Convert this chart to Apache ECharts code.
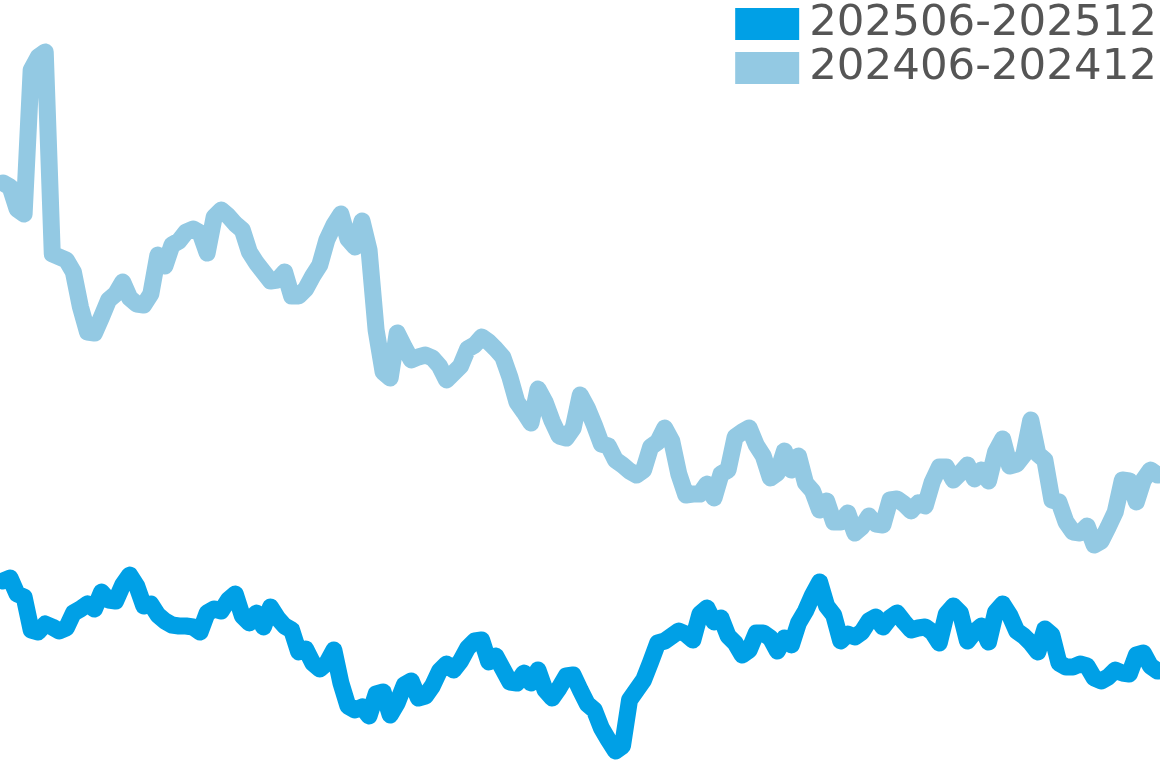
<!DOCTYPE html>
<html>
<head>
<meta charset="utf-8">
<script src="https://cdn.jsdelivr.net/npm/echarts@6/dist/echarts.min.js"></script>
<style>
html,body{margin:0;padding:0;background:#fff;}
#main{width:1160px;height:768px;}
</style>
</head>
<body>
<div id="main"></div>
<script>
const seriesNames = ['202506-202512', '202406-202412'];

const values2025 = [
18.7,19.0,17.4,17.1,13.8,13.6,14.4,14.1,13.7,14.0,
15.5,15.9,16.4,15.9,17.6,16.8,16.7,18.3,19.3,18.2,
16.2,16.4,15.3,14.7,14.3,14.2,14.2,14.1,13.6,15.5,
15.9,15.7,16.8,17.4,15.2,14.5,15.5,14.1,16.1,15.0,
14.2,13.8,11.6,11.9,10.5,9.9,10.5,11.8,8.5,6.2,
5.8,6.1,5.2,7.4,7.6,5.3,6.5,8.3,8.7,7.0,
7.2,8.2,9.7,10.4,9.8,10.7,12.0,12.7,12.8,10.6,
11.2,9.9,8.6,8.5,9.5,8.5,9.8,7.8,7.0,8.0,
9.2,9.3,7.8,6.4,5.8,4.0,2.8,1.7,2.2,6.8,
7.8,8.8,10.6,12.5,12.7,13.2,13.7,13.4,12.8,15.4,
16.0,14.6,15.0,13.2,12.5,11.3,11.8,13.5,13.5,13.0,
11.7,13.0,12.3,14.5,15.7,17.3,18.6,16.2,15.3,12.7,
13.4,13.1,13.6,14.7,15.1,14.1,15.0,15.5,14.6,13.8,
14.0,14.1,13.6,12.5,15.4,16.2,15.5,12.7,13.6,14.2,
12.6,15.6,16.4,15.3,13.7,13.2,12.5,11.6,13.9,13.3,
10.5,10.1,10.1,10.4,10.2,9.0,8.7,9.1,9.8,9.5,
9.4,11.3,11.5,10.2,9.7
];

const values2024 = [
58.5,58.1,55.9,55.4,69.8,71.1,71.6,51.4,51.1,50.8,
49.6,46.1,43.6,43.5,45.1,46.8,47.4,48.6,47.0,46.4,
46.3,47.4,51.3,50.2,52.3,52.7,53.6,53.9,53.5,51.5,
55.1,55.8,55.2,54.4,53.8,51.6,50.5,49.6,48.7,48.8,
49.6,47.2,47.2,47.9,49.2,50.3,52.8,54.3,55.4,52.9,
52.1,54.7,51.8,43.8,39.6,39.0,43.5,42.1,40.8,41.1,
41.3,41.0,40.2,38.8,39.5,40.2,41.9,42.3,43.1,42.6,
41.9,41.1,39.1,36.6,35.6,34.5,37.9,36.6,34.7,33.2,
33.0,34.0,37.3,36.0,34.3,32.4,32.2,30.8,30.3,29.7,
29.3,29.8,32.1,32.6,34.0,32.7,29.4,27.3,27.4,27.4,
28.4,27.0,29.4,29.8,33.1,33.6,34.0,32.3,31.2,29.0,
29.5,31.7,29.8,31.2,28.5,27.7,25.8,26.7,24.6,24.6,
25.5,23.5,24.1,25.2,24.4,24.3,26.8,26.9,26.4,25.7,
26.5,26.2,28.6,30.1,30.1,28.8,29.5,30.3,28.9,29.8,
28.7,31.6,32.9,30.2,30.4,31.3,34.8,31.4,30.8,26.8,
26.6,24.6,23.6,23.5,24.2,22.3,22.7,24.1,25.6,28.8,
28.7,26.6,28.8,29.8,29.3
];

const dayLabels = values2025.map((_, i) => 'D' + (i + 1));

const chart = echarts.init(document.getElementById('main'), null, {renderer: 'canvas'});
chart.setOption({
  animation: false,
  backgroundColor: '#ffffff',
  color: ['#00a0e6', '#93c9e3'],
  legend: {
    data: seriesNames,
    orient: 'vertical',
    right: 3,
    top: 2,
    padding: 0,
    icon: 'rect',
    itemWidth: 64,
    itemHeight: 32,
    itemGap: 0,
    textStyle: {
      fontFamily: 'DejaVu Sans',
      fontSize: 43.5,
      color: '#555555',
      padding: [0, 0, 0, 5]
    }
  },
  grid: {left: 3, right: 2.5, top: 0, bottom: 0, containLabel: false},
  xAxis: {
    type: 'category',
    data: dayLabels,
    boundaryGap: false,
    show: false
  },
  yAxis: {
    type: 'value',
    min: 0,
    max: 76.8,
    show: false
  },
  series: [
    {
      name: seriesNames[0],
      type: 'line',
      data: values2025,
      showSymbol: false,
      symbol: 'none',
      lineStyle: {width: 17, cap: 'round', join: 'round'}
    },
    {
      name: seriesNames[1],
      type: 'line',
      data: values2024,
      showSymbol: false,
      symbol: 'none',
      lineStyle: {width: 17, cap: 'round', join: 'round'}
    }
  ]
});
</script>
</body>
</html>
